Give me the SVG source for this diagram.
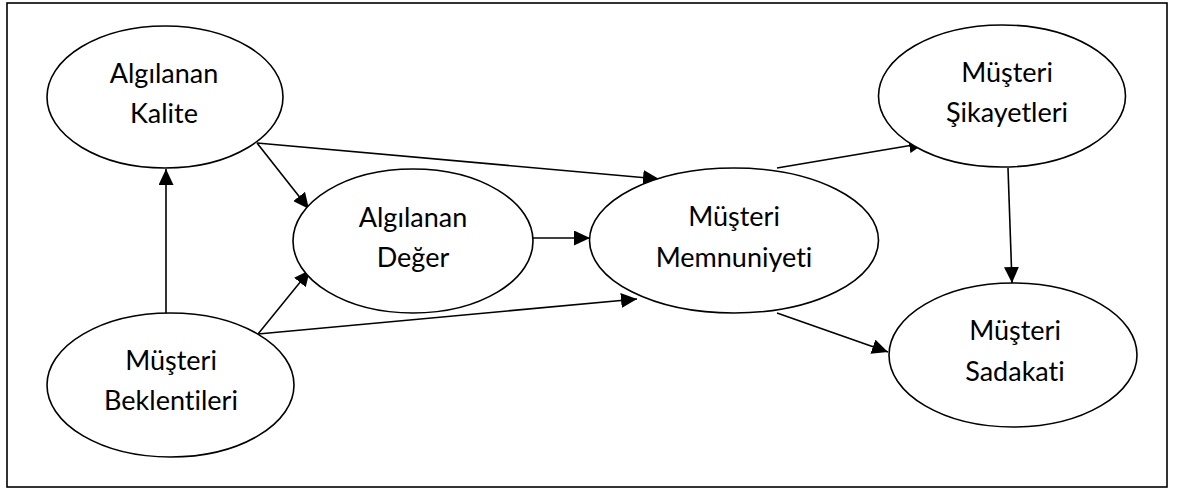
<svg xmlns="http://www.w3.org/2000/svg" width="1179" height="489" viewBox="0 0 1179 489">
<defs>
<style>
.node ellipse{fill:#fff;stroke:#000;stroke-width:1.6}
.node text{font-family:Lato,"Open Sans",sans-serif;font-size:27px;fill:#000;text-anchor:middle;font-variant-ligatures:none;font-feature-settings:"liga" 0}
.conn line{stroke:#000;stroke-width:1.6;marker-end:url(#ah)}
</style>
<marker id="ah" viewBox="0 0 16 15" refX="16" refY="7.5" markerWidth="16" markerHeight="15" markerUnits="userSpaceOnUse" orient="auto">
<path d="M0,0 L16,7.5 L0,15 Z" fill="#000"/>
</marker>
</defs>
<rect x="0" y="0" width="1179" height="489" fill="#fff"/>
<rect x="7" y="3" width="1160" height="484" fill="none" stroke="#000" stroke-width="1.6"/>
<g id="connectors" class="conn">
<line x1="166" y1="313" x2="166" y2="169"/>
<line x1="257" y1="143" x2="309" y2="209"/>
<line x1="257" y1="143" x2="659" y2="179"/>
<line x1="258" y1="334" x2="310" y2="270"/>
<line x1="258" y1="334" x2="637" y2="299"/>
<line x1="533" y1="238" x2="590" y2="238"/>
<line x1="777" y1="168" x2="925" y2="143"/>
<line x1="777" y1="313" x2="888" y2="352"/>
<line x1="1008" y1="168" x2="1012" y2="283"/>
</g>
<g id="kalite" class="node">
<ellipse cx="165" cy="97" rx="118" ry="71"/>
<text x="164" y="83">Algılanan</text>
<text x="164" y="123">Kalite</text>
</g>
<g id="deger" class="node">
<ellipse cx="413" cy="241" rx="120" ry="72"/>
<text x="413" y="227">Algılanan</text>
<text x="413" y="267">Değer</text>
</g>
<g id="memnuniyet" class="node">
<ellipse cx="734" cy="240.5" rx="144.5" ry="72.5"/>
<text x="734" y="226">Müşteri</text>
<text x="734" y="267">Memnuniyeti</text>
</g>
<g id="sikayet" class="node">
<ellipse cx="1002" cy="96" rx="123.5" ry="71"/>
<text x="1007" y="82">Müşteri</text>
<text x="1007" y="122">Şikayetleri</text>
</g>
<g id="beklenti" class="node">
<ellipse cx="170.5" cy="385" rx="123.5" ry="72"/>
<text x="171" y="370">Müşteri</text>
<text x="171" y="410">Beklentileri</text>
</g>
<g id="sadakat" class="node">
<ellipse cx="1013" cy="355" rx="124" ry="72"/>
<text x="1015" y="340">Müşteri</text>
<text x="1015" y="381">Sadakati</text>
</g>
</svg>
